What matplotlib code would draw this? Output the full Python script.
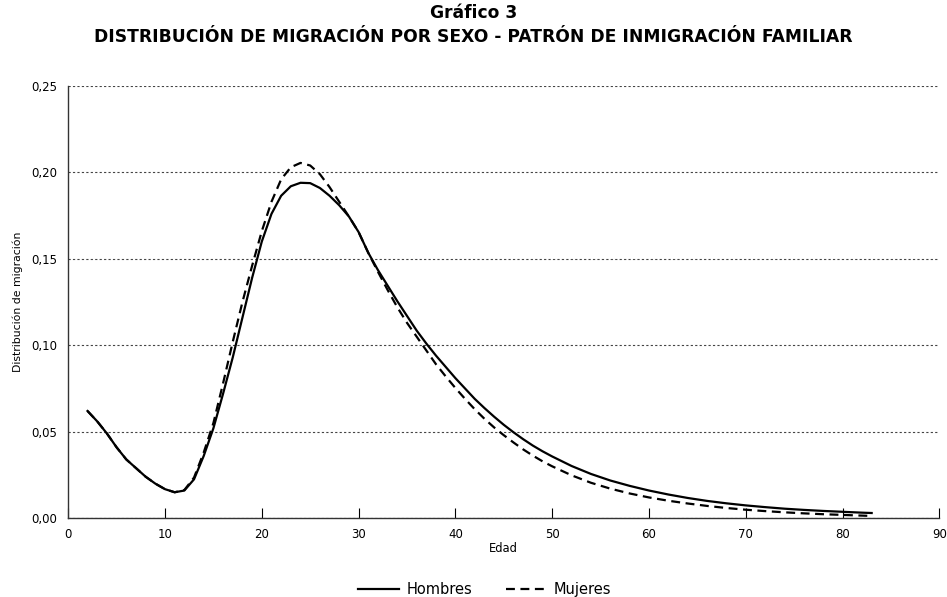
import matplotlib
matplotlib.use("Agg")
import matplotlib.pyplot as plt
from matplotlib.ticker import FuncFormatter

plt.rcParams['font.family'] = ['DejaVu Sans']

# Edades y distribución de migración
edades = list(range(2, 51)) + list(range(52, 83, 2)) + [83]

hombres = [0.062, 0.056, 0.049, 0.041, 0.034, 0.029, 0.024, 0.020, 0.0168, 0.015,
           0.016, 0.0225, 0.036, 0.052, 0.072, 0.093, 0.116, 0.139, 0.160, 0.176,
           0.1865, 0.192, 0.194, 0.1938, 0.191, 0.1865, 0.181, 0.1745, 0.1655, 0.1535,
           0.1435, 0.1345, 0.1255, 0.117, 0.1085, 0.101, 0.094, 0.0875, 0.081, 0.075,
           0.069, 0.0637, 0.0587, 0.054, 0.0497, 0.0457, 0.042, 0.0387, 0.0357,
           0.0302, 0.0256, 0.0218, 0.0187, 0.016, 0.0137, 0.0117, 0.010, 0.0086,
           0.0074, 0.0064, 0.0055, 0.0048, 0.0042, 0.0037, 0.0032, 0.003]

mujeres = [0.062, 0.056, 0.049, 0.041, 0.034, 0.029, 0.024, 0.020, 0.0168, 0.015,
           0.0163, 0.0235, 0.038, 0.055, 0.078, 0.102, 0.125, 0.146, 0.166, 0.183,
           0.196, 0.203, 0.2055, 0.204, 0.199, 0.1915, 0.183, 0.1745, 0.1655, 0.1535,
           0.1425, 0.132, 0.122, 0.113, 0.105, 0.097, 0.089, 0.082, 0.0753, 0.069,
           0.063, 0.0575, 0.0525, 0.048, 0.0438, 0.0398, 0.0362, 0.0329, 0.030,
           0.0248, 0.0205, 0.0171, 0.0143, 0.012, 0.0101, 0.0085, 0.0071, 0.0059,
           0.0049, 0.0041, 0.0034, 0.0028, 0.0023, 0.0019, 0.0015, 0.0013]

fig = plt.figure(figsize=(9.47, 5.97), dpi=100)
ax = fig.add_axes([0.072, 0.132, 0.92, 0.724])

ax.plot(edades, hombres, color='black', linewidth=1.6, label='Hombres')
ax.plot(edades, mujeres, color='black', linewidth=1.6, linestyle=(0, (4, 2.5)), label='Mujeres')

ax.set_xlim(0, 90)
ax.set_ylim(0, 0.25)
ax.set_xticks(range(0, 91, 10))
ax.set_yticks([0, 0.05, 0.10, 0.15, 0.20, 0.25])
ax.yaxis.set_major_formatter(FuncFormatter(lambda v, p: f'{v:.2f}'.replace('.', ',')))

ax.grid(axis='y', color='#444444', linestyle=(0, (2, 2)), linewidth=0.8)
ax.set_axisbelow(True)
for s in ['top', 'right']:
    ax.spines[s].set_visible(False)
for s in ['left', 'bottom']:
    ax.spines[s].set_color('#333333')
    ax.spines[s].set_linewidth(1.0)

ax.tick_params(axis='x', direction='in', length=7, labelsize=8.5, pad=7)
ax.tick_params(axis='y', length=0, labelsize=8.5, pad=8)

ax.set_xlabel('Edad', fontsize=8.3, labelpad=1)
ax.set_ylabel('Distribución de migración', fontsize=7.8, labelpad=6)

fig.text(0.5, 0.978, 'Gráfico 3', ha='center', va='center', fontsize=12.3, fontweight='bold')
fig.text(0.5, 0.938, 'DISTRIBUCIÓN DE MIGRACIÓN POR SEXO - PATRÓN DE INMIGRACIÓN FAMILIAR',
         ha='center', va='center', fontsize=12.3, fontweight='bold')

fig.legend(loc='center', bbox_to_anchor=(0.512, 0.012), ncol=2, frameon=False,
           fontsize=10.5, handlelength=2.8, handletextpad=0.5, columnspacing=2.3)

fig.savefig('out.png', dpi=100)
